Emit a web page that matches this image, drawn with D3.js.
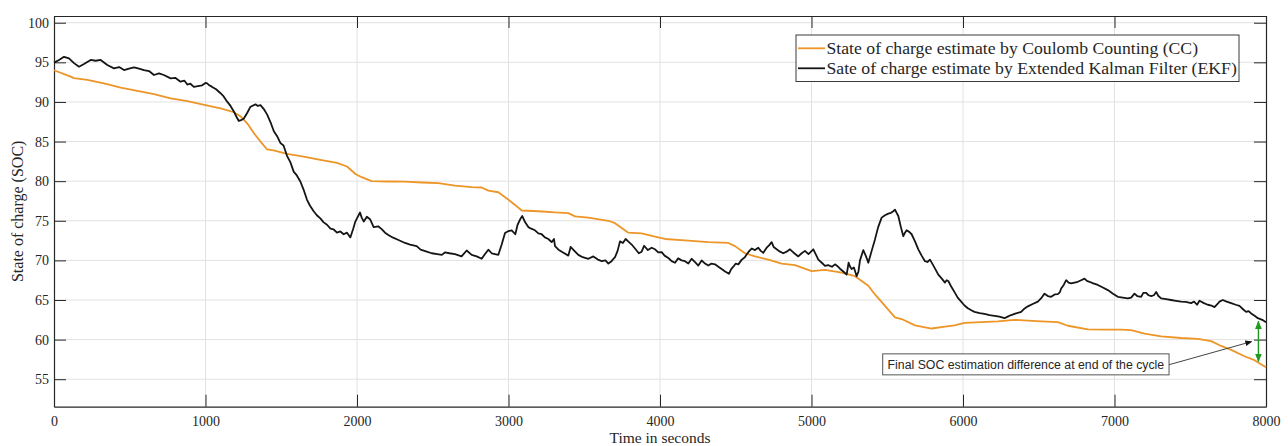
<!DOCTYPE html>
<html>
<head>
<meta charset="utf-8">
<script src="https://cdn.jsdelivr.net/npm/d3@7"></script>
<style>
  html, body { margin: 0; padding: 0; background: #fff; }
  svg { display: block; }
  .serif { font-family: "Liberation Serif", "Times New Roman", serif; fill: #262626; }
  .sans { font-family: "Liberation Sans", Arial, sans-serif; fill: #262626; }
</style>
</head>
<body>
<svg id="chart" width="1288" height="446"></svg>
<script>
// Coulomb Counting estimate (time in s, SOC in %)
const ccTime = [0,110,132,220,330,440,550,660,770,880,1000,1100,1187,1230,1275,1320,1363,1407,1450,1538,1648,1758,1868,1934,1990,2031,2097,2207,2317,2427,2537,2647,2757,2823,2867,2933,3000,3043,3087,3197,3307,3395,3439,3527,3659,3703,3791,3879,3967,4033,4187,4319,4451,4495,4561,4627,4715,4803,4891,5001,5089,5199,5287,5331,5375,5419,5485,5551,5595,5683,5793,5881,5944,6010,6120,6230,6340,6428,6516,6626,6692,6824,6934,7044,7110,7198,7308,7440,7550,7638,7704,7770,7858,7924,8000];
const ccSoc = [94.0,93.2,93.0,92.8,92.35,91.8,91.4,91.0,90.45,90.1,89.6,89.2,88.7,88.2,87.3,86.05,85.0,84.0,83.9,83.45,83.1,82.7,82.3,81.85,80.9,80.5,80.0,79.96,79.95,79.83,79.75,79.45,79.24,79.2,78.8,78.6,77.65,77.0,76.3,76.2,76.05,75.97,75.55,75.4,75.0,74.7,73.5,73.4,73.0,72.7,72.5,72.3,72.2,71.8,70.9,70.5,70.1,69.6,69.4,68.65,68.8,68.45,68.0,67.4,66.8,65.7,64.25,62.8,62.6,61.8,61.4,61.65,61.8,62.1,62.2,62.3,62.5,62.4,62.3,62.2,61.75,61.3,61.25,61.25,61.2,60.75,60.4,60.2,60.1,59.8,59.2,58.7,57.9,57.4,56.5];

// Extended Kalman Filter estimate (time in s, SOC in %)
const ekfTime = [0,33,66,99,132,165,198,242,275,308,352,396,430,462,495,528,561,594,627,660,693,725,770,800,835,860,880,900,923,950,978,1000,1011,1025,1044,1070,1099,1120,1143,1165,1187,1205,1220,1235,1253,1275,1297,1330,1345,1363,1385,1407,1430,1451,1475,1495,1515,1538,1560,1582,1600,1626,1650,1670,1690,1714,1735,1758,1780,1802,1825,1846,1868,1890,1912,1934,1956,1975,1989,2005,2020,2031,2045,2065,2086,2110,2140,2163,2185,2207,2235,2270,2317,2350,2394,2420,2460,2493,2530,2560,2580,2610,2647,2690,2724,2757,2790,2823,2845,2867,2889,2933,2955,2977,3000,3021,3045,3060,3080,3091,3110,3131,3150,3175,3197,3219,3240,3263,3285,3300,3307,3330,3360,3395,3410,3435,3461,3490,3527,3560,3590,3615,3640,3659,3680,3703,3720,3736,3755,3773,3790,3813,3835,3860,3879,3895,3920,3945,3967,3990,4011,4030,4055,4077,4099,4120,4143,4165,4187,4209,4230,4253,4275,4297,4319,4340,4363,4385,4407,4430,4455,4470,4484,4500,4517,4540,4560,4572,4590,4605,4627,4649,4665,4682,4704,4720,4737,4750,4770,4792,4814,4836,4858,4880,4913,4935,4957,4980,5012,5030,5045,5068,5089,5110,5135,5155,5170,5188,5210,5232,5245,5255,5265,5280,5298,5310,5320,5342,5360,5375,5397,5419,5440,5463,5485,5507,5525,5540,5551,5562,5573,5590,5606,5617,5628,5645,5661,5683,5705,5727,5749,5765,5782,5800,5820,5837,5860,5881,5892,5903,5925,5947,5965,5988,6010,6032,6055,6076,6110,6142,6175,6208,6240,6274,6295,6318,6350,6384,6405,6428,6460,6494,6515,6538,6560,6582,6605,6626,6640,6648,6665,6681,6697,6714,6736,6758,6780,6802,6818,6835,6860,6890,6920,6956,6990,7022,7055,7088,7110,7132,7150,7176,7190,7209,7225,7242,7260,7275,7290,7308,7340,7374,7405,7440,7470,7506,7525,7545,7561,7590,7616,7640,7660,7680,7693,7715,7740,7770,7800,7825,7850,7869,7885,7902,7925,7946,7975,8000];
const ekfSoc = [94.96,95.3,95.7,95.5,94.9,94.45,94.8,95.3,95.2,95.3,94.66,94.24,94.4,94.03,94.2,94.37,94.2,94.03,93.9,93.4,93.6,93.4,92.98,93.05,92.56,92.7,92.2,92.3,91.9,92.0,92.1,92.4,92.35,92.1,91.9,91.6,91.1,90.7,90.04,89.5,88.8,88.1,87.6,87.7,87.9,88.6,89.4,89.7,89.5,89.6,89.1,88.4,87.4,86.3,85.6,84.8,84.5,83.2,82.4,81.2,80.8,79.96,78.8,77.65,76.9,76.2,75.7,75.3,74.8,74.5,74.0,73.9,73.5,73.65,73.3,73.5,72.9,74.0,74.9,75.5,76.05,75.4,74.9,75.5,75.2,74.2,74.3,73.95,73.5,73.2,72.9,72.6,72.2,72.0,71.8,71.35,71.1,70.9,70.8,70.7,71.0,70.9,70.8,70.5,71.25,70.7,70.5,70.2,70.8,71.35,70.9,70.7,72.0,73.45,73.7,73.8,73.3,74.5,75.3,75.6,74.8,74.2,74.0,73.8,73.4,73.3,72.9,72.7,72.3,72.7,71.8,71.35,71.0,70.6,71.7,71.2,70.7,70.4,70.2,70.5,70.1,69.9,70.0,69.6,69.9,70.4,71.2,72.4,72.2,72.7,72.4,72.0,71.5,70.9,71.1,71.85,71.3,71.6,71.4,71.0,71.05,70.6,70.3,69.9,69.7,70.25,70.0,69.9,69.6,70.2,69.8,69.35,70.0,69.6,69.35,69.6,69.5,69.2,68.9,68.6,68.3,68.9,69.2,69.6,69.5,70.1,70.4,70.75,71.2,71.5,71.3,71.6,71.2,70.95,71.6,71.9,72.3,71.7,71.4,71.1,70.9,71.1,71.4,71.0,70.5,70.9,71.2,70.8,71.4,70.7,70.1,69.7,69.3,69.4,69.2,69.5,69.3,68.95,68.6,68.2,69.7,69.2,68.9,69.1,68.0,68.6,70.0,71.3,70.5,69.7,71.2,72.65,74.2,75.4,75.7,75.9,76.0,76.2,76.4,76.0,75.6,74.2,73.05,73.5,73.8,73.6,73.3,72.4,71.4,70.6,69.9,69.8,70.1,69.5,68.8,68.2,67.7,67.2,67.5,67.4,66.6,65.9,65.3,64.8,64.3,63.96,63.7,63.5,63.35,63.25,63.1,63.0,62.9,62.7,62.9,63.1,63.3,63.5,63.9,64.2,64.5,64.8,65.2,65.8,65.5,65.4,65.7,65.75,66.0,66.45,66.9,67.5,67.2,67.1,67.2,67.3,67.5,67.7,67.4,67.3,67.1,66.9,66.6,66.25,65.8,65.4,65.3,65.2,65.3,65.8,65.5,65.4,65.9,65.9,65.6,65.5,65.6,66.0,65.5,65.2,65.1,65.0,64.9,64.8,64.75,64.6,64.8,64.4,64.9,64.6,64.4,64.3,64.1,64.5,64.8,65.0,64.8,64.6,64.4,64.25,63.8,63.5,63.6,63.3,63.0,62.7,62.5,62.2];

const xTicks = [0,1000,2000,3000,4000,5000,6000,7000,8000];
const yTicks = [55,60,65,70,75,80,85,90,95,100];

const legendLabels = [
  "State of charge estimate by Coulomb Counting (CC)",
  "Sate of charge estimate by Extended Kalman Filter (EKF)"
];
const noteText = "Final SOC estimation difference at end of the cycle";

const ccColor = "#ED9527";
const ekfColor = "#151515";
const axisColor = "#262626";
const gridColor = "#e2e2e2";

const svg = d3.select("#chart");
const plot = { left: 54, right: 1266, top: 16, bottom: 406.7 };

const x = d3.scaleLinear().domain([0, 8000]).range([plot.left, plot.right]);
const y = d3.scaleLinear().domain([51.53, 100.85]).range([plot.bottom, plot.top]);

// grid
const grid = svg.append("g");
grid.selectAll("line.gx").data(xTicks.slice(1, -1)).join("line")
  .attr("x1", d => x(d)).attr("x2", d => x(d))
  .attr("y1", plot.top).attr("y2", plot.bottom)
  .attr("stroke", gridColor).attr("stroke-width", 1);
grid.selectAll("line.gy").data(yTicks).join("line")
  .attr("x1", plot.left).attr("x2", plot.right)
  .attr("y1", d => y(d)).attr("y2", d => y(d))
  .attr("stroke", gridColor).attr("stroke-width", 1);

// axes with inward ticks on all four sides
const tickLen = 12;
const axBottom = d3.axisBottom(x).tickValues(xTicks).tickSizeInner(-tickLen).tickSizeOuter(0).tickPadding(9).tickFormat(d3.format("d"));
const axTop = d3.axisTop(x).tickValues(xTicks).tickSizeInner(-tickLen).tickSizeOuter(0).tickFormat("");
const axLeft = d3.axisLeft(y).tickValues(yTicks).tickSizeInner(-tickLen).tickSizeOuter(0).tickPadding(5).tickFormat(d3.format("d"));
const axRight = d3.axisRight(y).tickValues(yTicks).tickSizeInner(-tickLen).tickSizeOuter(0).tickFormat("");

function styleAxis(g) {
  g.selectAll("path").attr("stroke", axisColor).attr("stroke-width", 1.2);
  g.selectAll("line").attr("stroke", axisColor).attr("stroke-width", 1);
  g.selectAll("text").attr("class", "serif").attr("font-size", 14).attr("fill", axisColor);
}

svg.append("g").attr("transform", `translate(0,${plot.bottom})`).call(axBottom).call(styleAxis);
svg.append("g").attr("transform", `translate(0,${plot.top})`).call(axTop).call(styleAxis);
svg.append("g").attr("transform", `translate(${plot.left},0)`).call(axLeft).call(styleAxis);
svg.append("g").attr("transform", `translate(${plot.right},0)`).call(axRight).call(styleAxis);

// series
const ccData = ccTime.map((t, i) => [t, ccSoc[i]]);
const ekfData = ekfTime.map((t, i) => [t, ekfSoc[i]]);
const line = d3.line().x(d => x(d[0])).y(d => y(d[1]));

svg.append("path").datum(ccData).attr("d", line)
  .attr("fill", "none").attr("stroke", ccColor).attr("stroke-width", 1.8).attr("stroke-linejoin", "round");
svg.append("path").datum(ekfData).attr("d", line)
  .attr("fill", "none").attr("stroke", ekfColor).attr("stroke-width", 1.8).attr("stroke-linejoin", "round");

// axis titles
svg.append("text").attr("class", "serif").attr("font-size", 15.5)
  .attr("x", (plot.left + plot.right) / 2).attr("y", 442.5)
  .attr("text-anchor", "middle").text("Time in seconds");
svg.append("text").attr("class", "serif").attr("font-size", 16)
  .attr("transform", `translate(23,${(plot.top + plot.bottom) / 2}) rotate(-90)`)
  .attr("text-anchor", "middle").text("State of charge (SOC)");

// legend
const lg = svg.append("g").attr("transform", "translate(796,35)");
lg.append("rect").attr("width", 443).attr("height", 46.5)
  .attr("fill", "#fff").attr("stroke", "#3a3a3a").attr("stroke-width", 1);
[ccColor, ekfColor].forEach((c, i) => {
  const cy = 13.3 + i * 20;
  lg.append("line").attr("x1", 2).attr("x2", 29).attr("y1", cy).attr("y2", cy)
    .attr("stroke", c).attr("stroke-width", 1.8);
  lg.append("text").attr("class", "serif").attr("font-size", 17.7)
    .attr("x", 30.5).attr("y", cy + 5.8).text(legendLabels[i]);
});

// annotation: final difference arrow and note
const defs = svg.append("defs");
defs.append("marker").attr("id", "blackHead").attr("viewBox", "0 0 10 10")
  .attr("refX", 9).attr("refY", 5).attr("markerWidth", 7).attr("markerHeight", 7)
  .attr("orient", "auto").append("path").attr("d", "M0,1 L10,5 L0,9 Z").attr("fill", "#111");
defs.append("marker").attr("id", "greenHead").attr("viewBox", "0 0 10 10")
  .attr("refX", 9).attr("refY", 5).attr("markerWidth", 6).attr("markerHeight", 7)
  .attr("orient", "auto-start-reverse").append("path").attr("d", "M0,1 L10,5 L0,9 Z").attr("fill", "#1f9a1f");

const diffT = 7950;
svg.append("line")
  .attr("x1", x(diffT)).attr("x2", x(diffT))
  .attr("y1", y(62.3)).attr("y2", y(57.25))
  .attr("stroke", "#1f9a1f").attr("stroke-width", 1.4)
  .attr("marker-start", "url(#greenHead)").attr("marker-end", "url(#greenHead)");

svg.append("line")
  .attr("x1", x(7355)).attr("y1", y(56.8))
  .attr("x2", x(7905)).attr("y2", y(59.75))
  .attr("stroke", "#444").attr("stroke-width", 1)
  .attr("marker-end", "url(#blackHead)");

const noteBox = { t0: 5470, t1: 7360, v0: 58.2, v1: 55.55 };
svg.append("rect")
  .attr("x", x(noteBox.t0)).attr("y", y(noteBox.v0))
  .attr("width", x(noteBox.t1) - x(noteBox.t0)).attr("height", y(noteBox.v1) - y(noteBox.v0))
  .attr("fill", "#fff").attr("stroke", "#555").attr("stroke-width", 1);
svg.append("text").attr("class", "sans").attr("font-size", 12.3)
  .attr("x", (x(noteBox.t0) + x(noteBox.t1)) / 2).attr("y", (y(noteBox.v0) + y(noteBox.v1)) / 2 + 4.3)
  .attr("text-anchor", "middle").text(noteText);
</script>
</body>
</html>
